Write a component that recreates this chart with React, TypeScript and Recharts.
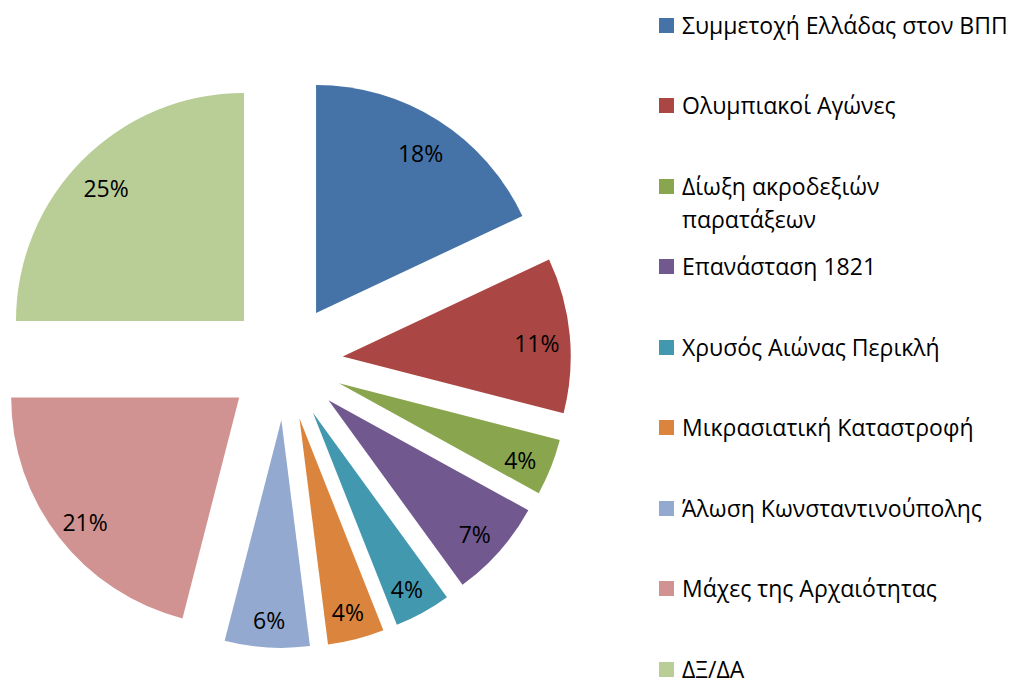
import { PieChart, Pie, Cell, Sector, Legend } from "recharts";

const topics = [
  "Συμμετοχή Ελλάδας στον ΒΠΠ",
  "Ολυμπιακοί Αγώνες",
  "Δίωξη ακροδεξιών παρατάξεων",
  "Επανάσταση 1821",
  "Χρυσός Αιώνας Περικλή",
  "Μικρασιατική Καταστροφή",
  "Άλωση Κωνσταντινούπολης",
  "Μάχες της Αρχαιότητας",
  "ΔΞ/ΔΑ",
];
const shares = [18, 11, 4, 7, 4, 4, 6, 21, 25];
const colors = [
  "#4572A7",
  "#AA4643",
  "#89A54E",
  "#71588F",
  "#4198AF",
  "#DB843D",
  "#93A9CF",
  "#D19392",
  "#B9CD96",
];

const data = topics.map((name, i) => ({ name, value: shares[i] }));

const FONT = "'Open Sans', sans-serif";
const RAD = Math.PI / 180;
const EXPLODE = 58;

// every slice is pushed out along its own mid angle
const ExplodedSlice = (props: any) => {
  const dx = Math.cos(-props.midAngle * RAD) * EXPLODE;
  const dy = Math.sin(-props.midAngle * RAD) * EXPLODE;
  return <Sector {...props} cx={props.cx + dx} cy={props.cy + dy} stroke="none" />;
};

const renderLabel = (props: any) => {
  const { cx, cy, midAngle, percent } = props;
  const r = EXPLODE + 195;
  const x = cx + Math.cos(-midAngle * RAD) * r;
  const y = cy + Math.sin(-midAngle * RAD) * r + 5;
  return (
    <text
      x={x}
      y={y}
      textAnchor="middle"
      dominantBaseline="central"
      fill="#000"
      fontSize={23}
      fontFamily={FONT}
    >
      {Math.round(percent * 100)}%
    </text>
  );
};

// legend in series order (recharts would sort it by name)
const renderLegend = () => (
  <div style={{ position: "relative", fontFamily: FONT, fontSize: 23, lineHeight: "33px", color: "#000" }}>
    {topics.map((name, i) => (
      <div key={name} style={{ position: "absolute", left: 0, top: 9 + i * 80.45, width: 352 }}>
        <span
          style={{
            position: "absolute",
            left: 0,
            top: 9,
            width: 15,
            height: 15,
            background: colors[i],
          }}
        />
        <div style={{ marginLeft: 23, width: 329 }}>{name}</div>
      </div>
    ))}
  </div>
);

export default function App() {
  return (
    <div style={{ position: "absolute", left: 0, top: 0, width: 1011, height: 681, background: "#fff", overflow: "hidden" }}>
      <PieChart width={1011} height={681} margin={{ top: 0, right: 0, bottom: 0, left: 0 }}>
        <Pie
          data={data}
          dataKey="value"
          nameKey="name"
          cx={285}
          cy={362}
          outerRadius={228}
          startAngle={90}
          endAngle={-270}
          shape={ExplodedSlice}
          label={renderLabel}
          labelLine={false}
          isAnimationActive={false}
        >
          {data.map((d, i) => (
            <Cell key={d.name} fill={colors[i]} />
          ))}
        </Pie>
        <Legend
          content={renderLegend}
          wrapperStyle={{ left: 659, top: 0, width: 352, height: 681 }}
        />
      </PieChart>
    </div>
  );
}
